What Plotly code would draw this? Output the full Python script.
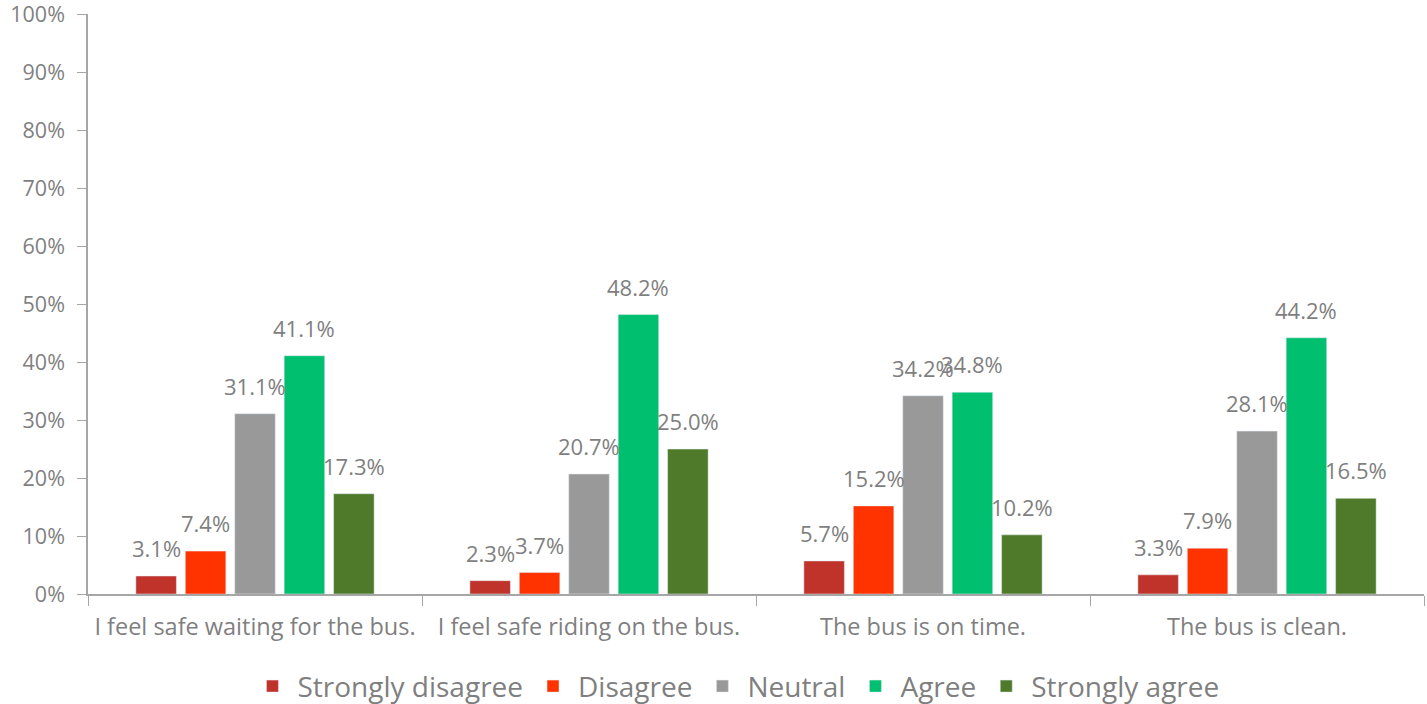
import plotly.graph_objects as go

categories = ["I feel safe waiting for the bus.", "I feel safe riding on the bus.",
              "The bus is on time.", "The bus is clean."]
series_names = ["Strongly disagree", "Disagree", "Neutral", "Agree", "Strongly agree"]
strongly_disagree = [3.1, 2.3, 5.7, 3.3]
disagree = [7.4, 3.7, 15.2, 7.9]
neutral = [31.1, 20.7, 34.2, 28.1]
agree = [41.1, 48.2, 34.8, 44.2]
strongly_agree = [17.3, 25.0, 10.2, 16.5]
values = [strongly_disagree, disagree, neutral, agree, strongly_agree]
colors = ["#C0332B", "#FF3300", "#999999", "#00BF6F", "#4E7A2A"]
tick_vals = [0, 10, 20, 30, 40, 50, 60, 70, 80, 90, 100]
tick_text = [f"{v}%" for v in tick_vals]

font_family = "Open Sans, Noto Sans, sans-serif"
gray = "#7F7F7F"
axis_gray = "#A6A6A6"
BARGAP = 0.26
BARGROUPGAP = 0.18

fig = go.Figure()
for name, vals, col in zip(series_names, values, colors):
    fig.add_trace(go.Bar(x=categories, y=vals, name=name, marker_color=col))

# value labels placed over each bar, derived from group layout
n = len(values)
slot = (1 - BARGAP) / n
for i, vals in enumerate(values):
    off = -(1 - BARGAP) / 2 + slot * (i + 0.5)
    for j, v in enumerate(vals):
        fig.add_annotation(x=j + off, y=v, xref="x", yref="y",
                           text=f"{v:.1f}%", showarrow=False,
                           yanchor="bottom", yshift=11,
                           font=dict(size=22, color=gray, family=font_family))

fig.update_layout(
    width=1427, height=704,
    margin=dict(l=88, r=3, t=14, b=110, autoexpand=False),
    plot_bgcolor="white", paper_bgcolor="white",
    barmode="group", bargap=BARGAP, bargroupgap=BARGROUPGAP,
    font=dict(family=font_family, color=gray),
    legend=dict(orientation="h", x=0.485, xanchor="center",
                yref="container", y=0.025, yanchor="middle",
                font=dict(size=28, color=gray), itemwidth=40, traceorder="normal"),
    xaxis=dict(showline=True, linecolor=axis_gray, linewidth=1.5, ticks="outside",
               tickson="boundaries", ticklen=10, tickcolor=axis_gray, tickangle=0,
               ticklabelstandoff=11,
               tickfont=dict(size=23.5, color=gray), automargin=False),
    yaxis=dict(range=[0, 100.05], tickvals=tick_vals, ticktext=tick_text,
               showgrid=False, showline=True, linecolor=axis_gray, linewidth=1.5,
               ticks="outside", ticklen=9, tickcolor=axis_gray, zeroline=False,
               ticklabelstandoff=8, ticklabeloverflow="allow",
               tickfont=dict(size=21.5, color=gray), automargin=False),
)
fig.write_html("out.html", config={"displayModeBar": False},
               post_script="document.body.style.margin='0';document.body.style.overflow='hidden';")
